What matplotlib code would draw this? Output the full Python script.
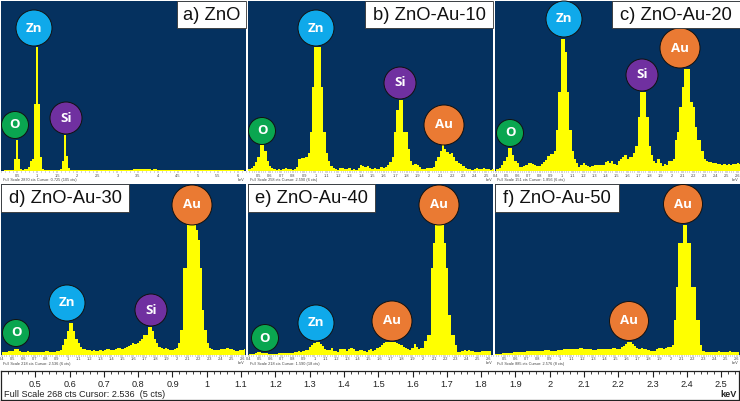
import numpy as np
import matplotlib
matplotlib.use('Agg')
import matplotlib.pyplot as plt
from matplotlib.patches import Circle, Rectangle
from matplotlib.ticker import MultipleLocator

W, H = 740, 401
NAVY = '#05315f'
COLORS = {'Zn': '#0fa9ea', 'O': '#0aa650', 'Si': '#7030a0', 'Au': '#ea7a33'}

titles = ['a) ZnO', 'b) ZnO-Au-10', 'c) ZnO-Au-20', 'd) ZnO-Au-30', 'e) ZnO-Au-40', 'f) ZnO-Au-50']
footers = ['Full Scale 2870 cts Cursor: 0.725 (105 cts)', 'Full Scale 258 cts Cursor: 2.590 (6 cts)',
           'Full Scale 151 cts Cursor: 1.856 (6 cts)', 'Full Scale 218 cts Cursor: 2.536 (6 cts)',
           'Full Scale 218 cts Cursor: 1.590 (18 cts)', 'Full Scale 885 cts Cursor: 2.576 (8 cts)']
scale_ticks = [0.5, 0.6, 0.7, 0.8, 0.9, 1, 1.1, 1.2, 1.3, 1.4, 1.5, 1.6, 1.7, 1.8, 1.9, 2, 2.1, 2.2, 2.3, 2.4, 2.5]

# panel a: 0.1 keV upwards in 0.05 keV bins, the others: 0.4 keV upwards in 0.02 keV bins
counts_a = [0, 0, 1, 1, 1, 1, 1, 12, 32, 12, 2, 1, 2, 2, 4, 10, 12, 68, 125, 68,
            14, 2, 1, 1, 1, 1, 1, 1, 1, 1, 2, 10, 37, 15, 3, 1, 1, 1, 1, 1,
            1, 1, 1, 1, 1, 1, 1, 1, 1, 1, 1, 1, 1, 1, 1, 1, 1, 1, 1, 1,
            1, 1, 1, 1, 1, 1, 2, 2, 2, 2, 2, 2, 2, 2, 2, 1, 2, 2, 1, 1,
            1, 1, 1, 1, 1, 1, 1, 1, 1, 1, 1, 1, 1, 1, 1, 1, 1, 1, 1, 1,
            1, 1, 1, 1, 1, 1, 1, 1, 1, 1, 1, 1, 1, 1, 1, 1, 1, 1, 1, 1, 1, 1]
counts_b = [1, 2, 3, 5, 9, 14, 26, 26, 20, 10,
            5, 3, 2, 1, 2, 1, 2, 3, 2, 2,
            1, 2, 4, 12, 13, 13, 14, 18, 40, 85,
            125, 125, 125, 85, 40, 18, 10, 5, 3, 2,
            1, 3, 3, 2, 2, 3, 1, 2, 1, 3,
            6, 5, 4, 5, 3, 2, 3, 2, 2, 4,
            3, 4, 6, 9, 14, 40, 62, 72, 72, 40,
            40, 22, 10, 6, 7, 6, 4, 2, 2, 3,
            3, 3, 4, 10, 14, 20, 26, 22, 19, 17,
            18, 14, 10, 8, 7, 5, 3, 2, 2, 1,
            2, 3, 2, 2, 3, 2, 2, 1, 2, 2, 2]
counts_c = [2, 2, 3, 6, 10, 14, 23, 23, 16, 10,
            8, 4, 4, 5, 6, 8, 8, 7, 6, 5,
            5, 7, 9, 11, 15, 17, 17, 20, 42, 80,
            133, 133, 120, 80, 42, 20, 12, 8, 4, 6,
            8, 6, 5, 4, 5, 6, 6, 6, 6, 6,
            9, 10, 8, 10, 7, 6, 10, 12, 14, 16,
            12, 14, 14, 18, 25, 55, 80, 80, 80, 55,
            25, 16, 10, 8, 12, 8, 5, 7, 6, 10,
            10, 12, 32, 40, 65, 85, 103, 103, 103, 70,
            65, 45, 32, 32, 20, 12, 10, 9, 9, 8,
            8, 7, 7, 6, 7, 6, 7, 6, 7, 7, 8, 7]
counts_d = [3, 3, 3, 4, 4, 4, 6, 6, 4, 3,
            3, 3, 4, 3, 3, 3, 3, 3, 3, 3,
            4, 4, 3, 3, 3, 4, 4, 5, 10, 16,
            24, 32, 32, 24, 16, 12, 8, 6, 6, 5,
            5, 4, 5, 4, 4, 5, 4, 5, 6, 6,
            5, 5, 6, 7, 7, 6, 7, 8, 9, 10,
            12, 11, 12, 14, 16, 20, 20, 28, 28, 24,
            16, 12, 8, 7, 6, 7, 6, 5, 5, 6,
            7, 12, 25, 87, 87, 130, 130, 130, 130, 125,
            115, 87, 45, 25, 12, 7, 6, 5, 5, 5,
            6, 6, 6, 7, 6, 6, 5, 4, 4, 5, 5, 6]
counts_e = [1, 1, 1, 2, 3, 3, 2, 2, 2, 1,
            1, 1, 1, 1, 2, 2, 2, 2, 2, 2,
            2, 3, 3, 4, 3, 4, 5, 5, 8, 10,
            12, 13, 13, 11, 9, 6, 5, 5, 7, 4,
            4, 3, 6, 6, 6, 4, 6, 7, 6, 4,
            4, 5, 5, 4, 3, 5, 6, 4, 5, 7,
            8, 10, 12, 13, 13, 13, 13, 13, 12, 11,
            10, 8, 7, 6, 5, 7, 11, 8, 6, 7,
            7, 14, 20, 20, 87, 112, 130, 130, 130, 130,
            112, 87, 40, 20, 20, 10, 3, 3, 4, 5,
            4, 5, 4, 4, 3, 3, 3, 4, 4, 4, 4, 4]
counts_f = [2, 1, 1, 1, 2, 2, 2, 2, 2, 3,
            3, 3, 3, 3, 3, 4, 4, 4, 4, 4,
            4, 4, 4, 5, 5, 5, 4, 4, 4, 5,
            5, 5, 6, 6, 6, 6, 6, 6, 6, 7,
            7, 6, 6, 6, 6, 5, 5, 6, 6, 6,
            6, 6, 6, 6, 7, 7, 6, 6, 8, 9,
            11, 13, 13, 11, 9, 7, 6, 7, 6, 6,
            5, 4, 4, 4, 6, 7, 7, 6, 7, 8,
            8, 10, 35, 68, 112, 112, 130, 130, 112, 112,
            68, 68, 35, 35, 10, 4, 3, 3, 3, 3,
            3, 3, 4, 3, 3, 3, 3, 4, 3, 3, 3, 3]
spectra = [counts_a, counts_b, counts_c, counts_d, counts_e, counts_f]

# element, centre x, centre y, radius (pixels)
circles = [
    [('Zn', 34, 28, 18), ('O', 15, 125, 13.5), ('Si', 66, 118, 16)],
    [('Zn', 316, 28, 18), ('O', 262, 131, 13.5), ('Si', 400, 83, 16), ('Au', 444, 125, 20)],
    [('Zn', 564, 19, 18), ('O', 510, 133, 13.5), ('Si', 642, 75, 16), ('Au', 680, 48, 20)],
    [('Au', 192, 205, 20), ('Zn', 67, 303, 18), ('Si', 151, 310, 16), ('O', 16, 333, 13.5)],
    [('Au', 439, 205, 20), ('Zn', 316, 323, 18), ('Au', 392, 321, 20), ('O', 265, 338, 13.5)],
    [('Au', 683, 204, 19.5), ('Au', 629, 321, 19.5)],
]

# left, right, top, bottom of the plot, xlim, first bin, bin width
panels = [
    (1, 246, 1, 171.5, (0.1, 6.2), 0.1, 0.05),
    (248, 493, 1, 171.5, (0.407, 2.56), 0.4, 0.02),
    (495, 740, 1, 171.5, (0.394, 2.62), 0.4, 0.02),
    (1, 246, 184, 355, (0.39, 2.63), 0.4, 0.02),
    (248, 493, 184, 355, (0.39, 2.64), 0.4, 0.02),
    (495, 740, 184, 355, (0.41, 2.63), 0.4, 0.02),
]
label_boxes = [(177, 246, 1, 28), (365, 493, 1, 28), (612, 740, 1, 28),
               (1, 129, 184, 212), (248, 375, 184, 212), (495, 619, 184, 212)]

plt.rcParams['font.family'] = ['Liberation Sans', 'DejaVu Sans']
fig = plt.figure(figsize=(W / 100, H / 100), dpi=100, facecolor='white')


def pixel_axes(left, right, top, bottom):
    return fig.add_axes([left / W, 1 - bottom / H, (right - left) / W, (bottom - top) / H])


for i, (left, right, top, bottom, xlim, start, step) in enumerate(panels):
    ax = pixel_axes(left, right, top, bottom)
    energy = start + step * np.arange(len(spectra[i]))
    ax.fill_between(energy, spectra[i], 0, step='mid', color='#ffff00', lw=0)
    ax.set_facecolor(NAVY)
    ax.set_xlim(xlim)
    ax.set_ylim(0, bottom - top)
    ax.set_yticks([])
    major = 0.5 if i == 0 else 0.1
    ax.xaxis.set_major_locator(MultipleLocator(major))
    ax.xaxis.set_minor_locator(MultipleLocator(major / 5))
    ax.tick_params(axis='x', which='major', length=1.2, width=0.3, pad=0.6, labelsize=2.8, color='#333333',
                   labelcolor='#444444')
    ax.tick_params(axis='x', which='minor', length=0.7, width=0.3, color='#333333')
    ax.xaxis.set_major_formatter(lambda v, pos: f'{v:g}')
    for s in ax.spines.values():
        s.set_visible(False)
    fig.text((left + 2) / W, 1 - (bottom + 8.5) / H, footers[i], fontsize=2.8, color='#444444', va='center')
    fig.text((right - 1) / W, 1 - (bottom + 8.5) / H, 'keV', fontsize=2.8, color='#444444', va='center', ha='right')

# overlay in pixel coordinates for the element circles and the panel labels
over = fig.add_axes([0, 0, 1, 1], facecolor='none')
over.set_xlim(0, W)
over.set_ylim(H, 0)
over.axis('off')
for group in circles:
    for name, cx, cy, r in group:
        over.add_patch(Circle((cx, cy), r, fc=COLORS[name], ec='#111111', lw=0.7, zorder=3))
        over.text(cx, cy, name, color='white', fontsize=9.5, fontweight='bold', family='Open Sans',
                  ha='center', va='center', zorder=4)
for (x0, x1, y0, y1), title in zip(label_boxes, titles):
    over.add_patch(Rectangle((x0, y0), x1 - x0, y1 - y0, fc='white', ec='#333333', lw=0.6, zorder=3))
    over.text((x0 + x1) / 2, (y0 + y1) / 2 + 0.5, title, fontsize=13.2, color='#111111',
              ha='center', va='center', zorder=4)

# big scale at the bottom of the figure
scale = pixel_axes(1, 739, 371, 400)
scale.set_xlim(0.4, 2.552)
scale.set_ylim(0, 1)
scale.set_yticks([])
scale.xaxis.tick_top()
scale.set_xticks(scale_ticks)
scale.set_xticklabels([f'{v:g}' for v in scale_ticks])
scale.xaxis.set_minor_locator(MultipleLocator(0.02))
scale.tick_params(axis='x', which='major', direction='in', length=4, width=0.8, pad=-13, labelsize=6.6,
                  color='#222222', labelcolor='#222222')
scale.tick_params(axis='x', which='minor', direction='in', length=2.5, width=0.6, color='#222222')
for s in scale.spines.values():
    s.set_linewidth(0.9)
    s.set_color('#222222')
scale.text(0.004, 0.2, 'Full Scale 268 cts Cursor: 2.536  (5 cts)', transform=scale.transAxes, fontsize=6.6,
           color='#222222', va='center')
scale.text(0.997, 0.2, 'keV', transform=scale.transAxes, fontsize=6.6, fontweight='bold', color='#222222',
           va='center', ha='right')

fig.savefig('out.png', dpi=100)
